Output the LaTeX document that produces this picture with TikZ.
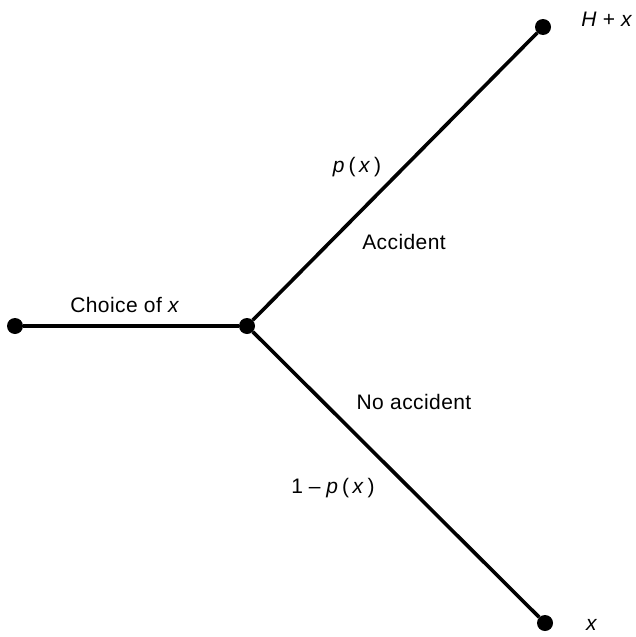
\documentclass[tikz,border=0pt]{standalone}
\usepackage{fontspec}
\setmainfont{Liberation Sans}[LetterSpace=2]
\usepackage{tikz}

\tikzset{
  event/.style={circle,fill=black,inner sep=0pt,minimum size=16pt},
  branch/.style={line width=3.6pt},
  lbl/.style={inner sep=0pt,font=\fontsize{21}{25}\selectfont}
}

\begin{document}
\begin{tikzpicture}[x=1pt,y=-1pt]

% --- FRAME ---
\useasboundingbox (0,0) rectangle (635,637);

% --- EVENTS ---
\node[event] (start) at (15,326) {};
\node[event] (choice) at (247,326) {};
\node[event] (acc) at (543,27) {};
\node[event] (noacc) at (545,623) {};

% --- BRANCHES ---
\draw[branch] (start) -- (choice);
\draw[branch] (choice) -- (acc);
\draw[branch] (choice) -- (noacc);

% --- LABELS ---
\node[lbl] (lchoice) at (125,305) {Choice of \textit{x}};
\node[lbl] (lp) at (357,167) {\textit{p}\,(\,\textit{x}\,)};
\node[lbl] (lacc) at (404,242) {Accident};
\node[lbl] (lnoacc) at (414,402) {No accident};
\node[lbl] (lq) at (333,488) {1\;--\;\textit{p}\,(\,\textit{x}\,)};
\node[lbl] (lhx) at (607,19) {\textit{H}\;+\;\textit{x}};
\node[lbl] (lx) at (592,625) {\textit{x}};

\end{tikzpicture}
\end{document}
